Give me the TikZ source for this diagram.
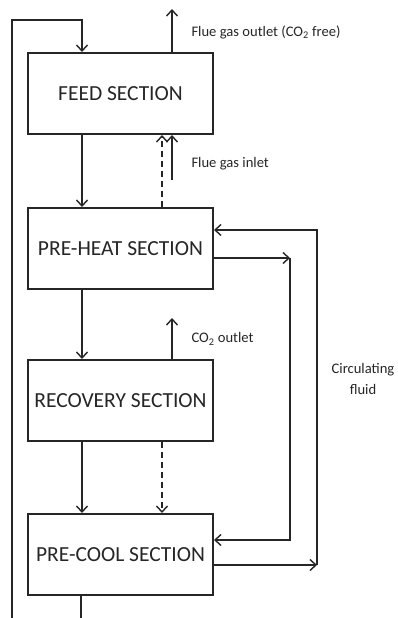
\documentclass[tikz,border=0pt]{standalone}
\usepackage{fontspec}
\setmainfont{Carlito}
\usetikzlibrary{arrows.meta,positioning,calc}
\definecolor{Ink}{HTML}{262626}
\tikzset{
  flow/.style={-{Straight Barb[length=6pt,width=11pt]},line width=1.4pt,draw=Ink},
  gapped/.style={dash pattern=on 6pt off 4pt},
  secbox/.style={draw=Ink,line width=2pt,fill=white,minimum width=185pt,minimum height=81pt,font=\fontsize{21.5}{24}\selectfont,text=Ink},
  note/.style={font=\fontsize{14.6}{21}\selectfont,text=Ink,align=center}
}

\begin{document}
\begin{tikzpicture}[x=1pt,y=-1pt]
  \useasboundingbox (0,0) rectangle (397,618);
  % sections
  \node[secbox] (feed) at (120.5,93.5) {FEED SECTION};
  \node[secbox,below=72pt of feed] (heat) {PRE-HEAT SECTION};
  \node[secbox,below=69pt of heat] (rec) {RECOVERY SECTION};
  \node[secbox,below=71pt of rec] (cool) {PRE-COOL SECTION};
  % main flow
  \draw[flow] ($(feed.south west)+(55,0)$) -- ($(heat.north west)+(55,0)$);
  \draw[flow,gapped] ($(heat.north west)+(135,0)$) -- ($(feed.south west)+(135,0)$);
  \draw[flow] ($(heat.south west)+(55,0)$) -- ($(rec.north west)+(55,0)$);
  \draw[flow] ($(rec.south west)+(55,0)$) -- ($(cool.north west)+(55,0)$);
  \draw[flow,gapped] ($(rec.south west)+(135,0)$) -- ($(cool.north west)+(135,0)$);
  % return loop
  \coordinate (ret) at (12,618);
  \draw[flow] (ret) |- ($(feed.north west)+(55,-32)$) -- ($(feed.north west)+(55,0)$);
  \coordinate (out) at ($(cool.south west)+(54,30)$);
  \draw[line width=1.4pt,draw=Ink] ($(cool.south west)+(54,0)$) -- (out);
  % gas streams
  \coordinate (fgout) at ($(feed.north west)+(145,-43)$);
  \draw[flow] ($(feed.north west)+(145,0)$) -- (fgout);
  \node[note,anchor=west] (outlab) at ($(feed.north west)+(161,-20)$) {Flue gas outlet (CO\textsubscript{2} free)};
  \coordinate (fgin) at ($(feed.south west)+(145,45)$);
  \draw[flow] (fgin) -- ($(feed.south west)+(145,0)$);
  \node[note,anchor=west] (inlab) at ($(feed.south west)+(161,29)$) {Flue gas inlet};
  \coordinate (co2) at ($(rec.north west)+(145,-41)$);
  \draw[flow] ($(rec.north west)+(145,0)$) -- (co2);
  \node[note,anchor=west] (co2lab) at ($(rec.north west)+(161,-20)$) {CO\textsubscript{2} outlet};
  % circulating fluid
  \coordinate (co1) at ($(cool.east)+(103,10.5)$);
  \draw[flow] ($(cool.east)+(0,10.5)$) -- (co1);
  \draw[flow] (co1) |- ($(heat.east)+(0,-18.5)$);
  \coordinate (ci1) at ($(heat.east)+(76,9.5)$);
  \draw[flow] ($(heat.east)+(0,9.5)$) -- (ci1);
  \draw[flow] (ci1) |- ($(cool.east)+(0,-14.5)$);
  \node[note] (circ) at ($(co1|-rec.center)+(46,-22)$) {Circulating\\fluid};
\end{tikzpicture}
\end{document}
